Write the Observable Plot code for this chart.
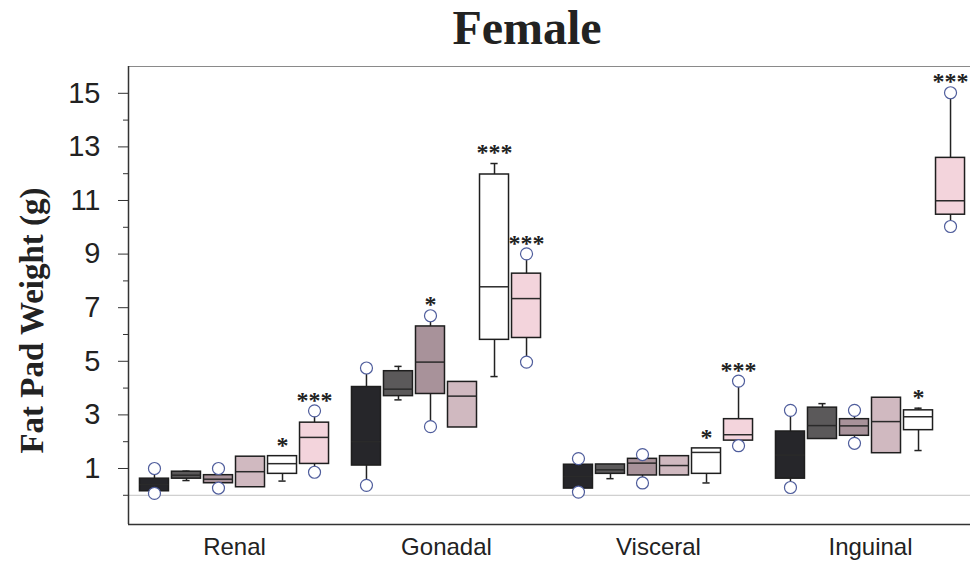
<!DOCTYPE html>
<html>
<head>
<meta charset="utf-8">
<script src="https://cdn.jsdelivr.net/npm/d3@7"></script>
<script src="https://cdn.jsdelivr.net/npm/@observablehq/plot@0.6"></script>
<style>
  html, body { margin: 0; padding: 0; background: #fff; }
  #wrap { width: 970px; }
  #title {
    height: 56px; line-height: 56px; box-sizing: border-box; padding-left: 84px;
    text-align: center; font-family: "Liberation Serif", "Times New Roman", serif;
    font-weight: bold; font-size: 48px; color: #222;
  }
</style>
</head>
<body>
<div id="wrap">
  <div id="title">Female</div>
  <div id="chart"></div>
</div>
<script>
// Fat pad depots and the six treatment series shown in each depot
const groups = ["Renal", "Gonadal", "Visceral", "Inguinal"];
const series = ["S1", "S2", "S3", "S4", "S5", "S6"];

// Box statistics (g), six values per depot, depot after depot
const whiskerLow = [
  0.07, 0.55, 0.27, 0.30, 0.53, 0.86,
  0.37, 3.56, 2.56, 2.53, 4.43, 4.97,
  0.12, 0.62, 0.46, 0.74, 0.46, 1.85,
  0.29, 2.10, 1.94, 1.57, 1.67, 10.03
];
const q1 = [
  0.15, 0.62, 0.45, 0.30, 0.80, 1.17,
  1.11, 3.70, 3.78, 2.53, 5.80, 5.87,
  0.25, 0.80, 0.74, 0.74, 0.80, 2.04,
  0.62, 2.10, 2.22, 1.57, 2.43, 10.47
];
const median = [
  0.40, 0.75, 0.60, 0.88, 1.18, 2.16,
  2.00, 3.96, 4.97, 3.70, 7.78, 7.34,
  0.70, 0.95, 1.20, 1.11, 1.60, 2.26,
  1.50, 2.60, 2.59, 2.75, 2.93, 10.99
];
const q3 = [
  0.62, 0.88, 0.75, 1.44, 1.46, 2.71,
  4.04, 4.63, 6.30, 4.23, 11.97, 8.27,
  1.14, 1.15, 1.36, 1.46, 1.75, 2.84,
  2.38, 3.27, 2.84, 3.64, 3.17, 12.59
];
const whiskerHigh = [
  1.00, 0.90, 1.00, 1.44, 1.46, 3.15,
  4.75, 4.81, 6.70, 4.23, 12.38, 9.01,
  1.37, 1.15, 1.52, 1.46, 1.75, 4.26,
  3.17, 3.42, 3.17, 3.64, 3.25, 15.02
];
// Outlying animals (open circles); null where there is none
const outlierHigh = [
  1.00, null, 1.00, null, null, 3.15,
  4.75, null, 6.70, null, null, 9.01,
  1.37, null, 1.52, null, null, 4.26,
  3.17, null, 3.17, null, null, 15.02
];
const outlierLow = [
  0.07, null, 0.27, null, null, 0.86,
  0.37, null, 2.56, null, null, 4.97,
  0.12, null, 0.46, null, null, 1.85,
  0.29, null, 1.94, null, null, 10.03
];
// Significance versus control
const significance = [
  "", "", "", "", "*", "***",
  "", "", "*", "", "***", "***",
  "", "", "", "", "*", "***",
  "", "", "", "", "*", "***"
];

const yTicks = [1, 3, 5, 7, 9, 11, 13, 15];
const yMinorTicks = [0, 2, 4, 6, 8, 10, 12, 14];

// Fill of each series
const palette = ["#26262a", "#5b595a", "#a8929a", "#d0b9c0", "#ffffff", "#f3d4dc"];

const step = 0.151;      // spacing of boxes inside a depot (depot units)
const halfBox = 0.0684;  // half box width
const halfCap = 0.017;   // half whisker-cap width

const rows = [];
groups.forEach((g, gi) => {
  series.forEach((s, si) => {
    const i = gi * 6 + si;
    rows.push({
      group: g, series: s, x: gi + (si - 2.5) * step,
      lo: whiskerLow[i], q1: q1[i], med: median[i], q3: q3[i], hi: whiskerHigh[i],
      outHi: outlierHigh[i], outLo: outlierLow[i], sig: significance[i],
      fill: palette[si]
    });
  });
});
const outliers = rows.flatMap(d => [d.outHi, d.outLo].filter(v => v != null).map(v => ({x: d.x, v})));
const starred = rows.filter(d => d.sig);

const yDomain = [-1.09, 16.0];
const xDomain = [-0.5, 3.4717];

const chart = Plot.plot({
  width: 970,
  height: 509,
  marginLeft: 128,
  marginRight: 0,
  marginTop: 10,
  marginBottom: 41,
  style: {fontFamily: "'Liberation Sans', Arial, sans-serif", color: "#222", background: "#fff"},
  x: {domain: xDomain, axis: null},
  y: {domain: yDomain, axis: null},
  color: {type: "identity"},
  marks: [
    // frame lines and the zero reference
    Plot.ruleY([yDomain[1]], {stroke: "#8a8a8a", strokeWidth: 1}),
    Plot.ruleY([0], {stroke: "#c4c4c4", strokeWidth: 1}),
    Plot.ruleY([yDomain[0]], {stroke: "#333", strokeWidth: 1.5}),
    Plot.ruleX([xDomain[0]], {stroke: "#333", strokeWidth: 1.5}),
    Plot.axisY({ticks: yMinorTicks, tickSize: 5, text: null, stroke: "#333"}),
    Plot.axisY({ticks: yTicks, tickSize: 10, tickPadding: 18, fontSize: 29, label: null, stroke: "#333", tickFormat: d => d}),
    Plot.axisX({ticks: [0, 1, 2, 3], tickSize: 0, tickPadding: 13, fontSize: 24, label: null, tickFormat: i => groups[i]}),
    Plot.text(["Fat Pad Weight (g)"], {
      frameAnchor: "left", textAnchor: "middle", dx: -96, dy: 25, rotate: -90,
      fontFamily: "'Liberation Serif', 'Times New Roman', serif", fontWeight: "bold", fontSize: 33, fill: "#222"
    }),
    // whiskers and caps
    Plot.ruleX(rows.filter(d => d.lo < d.q1), {x: "x", y1: "lo", y2: "q1", stroke: "#222", strokeWidth: 1.5}),
    Plot.ruleX(rows.filter(d => d.hi > d.q3), {x: "x", y1: "q3", y2: "hi", stroke: "#222", strokeWidth: 1.5}),
    Plot.ruleY(rows.filter(d => d.lo < d.q1), {y: "lo", x1: d => d.x - halfCap, x2: d => d.x + halfCap, stroke: "#222", strokeWidth: 1.5}),
    Plot.ruleY(rows.filter(d => d.hi > d.q3), {y: "hi", x1: d => d.x - halfCap, x2: d => d.x + halfCap, stroke: "#222", strokeWidth: 1.5}),
    // boxes
    Plot.rect(rows, {
      x1: d => d.x - halfBox, x2: d => d.x + halfBox, y1: "q1", y2: "q3",
      fill: "fill", stroke: "#1e1e1e", strokeWidth: 1.5
    }),
    Plot.ruleY(rows, {y: "med", x1: d => d.x - halfBox, x2: d => d.x + halfBox, stroke: "#2a2a2a", strokeWidth: 1.5}),
    // outliers
    Plot.dot(outliers, {x: "x", y: "v", r: 6, fill: "white", stroke: "#4f5d9c", strokeWidth: 1.2}),
    // significance stars
    Plot.text(starred, {
      x: "x", y: d => Math.max(d.hi, d.outHi ?? -Infinity), text: "sig", dy: -11,
      fontFamily: "'Liberation Serif', 'Times New Roman', serif", fontWeight: "bold", fontSize: 24, fill: "#222"
    })
  ]
});
document.getElementById("chart").appendChild(chart);
</script>
</body>
</html>
